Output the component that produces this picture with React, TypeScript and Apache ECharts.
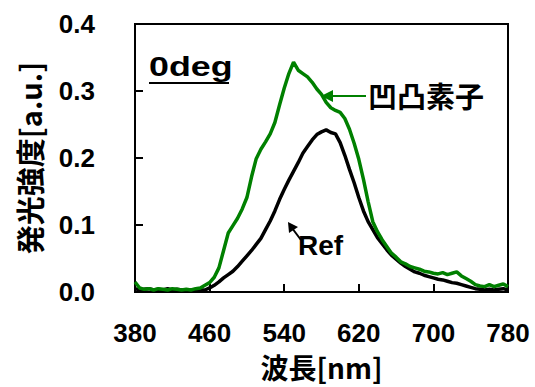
import React, { useEffect, useRef } from "react";
import * as echarts from "echarts";

// Tick labels
const xTicks = [380, 460, 540, 620, 700, 780];
const yTicks = [0, 0.1, 0.2, 0.3, 0.4];

// Series: [wavelength nm, intensity a.u.]
const refSeriesName = "Ref";
const refPoints: [number, number][] = [
  [380, 0.005], [385, 0.003], [390, 0.004], [395, 0.005], [400, 0.003], [405, 0.004], [410, 0.003], [415, 0.005], [420, 0.003], [425, 0.004],
  [430, 0.003], [435, 0.002], [440, 0.003], [445, 0.002], [450, 0.003], [455, 0.003], [460, 0.006], [465, 0.010], [470, 0.015], [475, 0.021],
  [480, 0.026], [485, 0.031], [490, 0.038], [495, 0.046], [500, 0.054], [505, 0.062], [510, 0.071], [515, 0.080], [520, 0.093], [525, 0.106],
  [530, 0.121], [535, 0.138], [540, 0.153], [545, 0.167], [550, 0.180], [555, 0.193], [560, 0.207], [565, 0.217], [570, 0.227], [575, 0.235],
  [580, 0.239], [585, 0.242], [590, 0.238], [595, 0.236], [600, 0.223], [605, 0.204], [610, 0.183], [615, 0.163], [620, 0.141], [625, 0.121],
  [630, 0.105], [635, 0.093], [640, 0.081], [645, 0.072], [650, 0.063], [655, 0.055], [660, 0.049], [665, 0.043], [670, 0.038], [675, 0.034],
  [680, 0.030], [685, 0.028], [690, 0.025], [695, 0.023], [700, 0.021], [705, 0.019], [710, 0.018], [715, 0.016], [720, 0.014], [725, 0.013],
  [730, 0.011], [735, 0.009], [740, 0.007], [745, 0.005], [750, 0.004], [755, 0.003], [760, 0.004], [765, 0.003], [770, 0.004], [775, 0.005],
  [780, 0.003],
];

const devSeriesName = "凹凸素子";
const devPoints: [number, number][] = [
  [380, 0.015], [385, 0.006], [390, 0.004], [395, 0.005], [400, 0.003], [405, 0.005], [410, 0.004], [415, 0.003], [420, 0.005], [425, 0.004],
  [430, 0.003], [435, 0.004], [440, 0.003], [445, 0.005], [450, 0.006], [455, 0.010], [460, 0.014], [465, 0.022], [470, 0.036], [475, 0.062],
  [480, 0.088], [485, 0.099], [490, 0.110], [495, 0.124], [500, 0.141], [505, 0.172], [510, 0.199], [515, 0.213], [520, 0.224], [525, 0.236],
  [530, 0.253], [535, 0.279], [540, 0.304], [545, 0.326], [550, 0.343], [555, 0.331], [560, 0.326], [565, 0.321], [570, 0.313], [575, 0.303],
  [580, 0.295], [585, 0.283], [590, 0.275], [595, 0.271], [600, 0.268], [605, 0.259], [610, 0.243], [615, 0.222], [620, 0.198], [625, 0.168],
  [630, 0.135], [635, 0.105], [640, 0.090], [645, 0.078], [650, 0.068], [655, 0.058], [660, 0.052], [665, 0.045], [670, 0.042], [675, 0.038],
  [680, 0.036], [685, 0.034], [690, 0.031], [695, 0.030], [700, 0.028], [705, 0.027], [710, 0.029], [715, 0.026], [720, 0.028], [725, 0.030],
  [730, 0.024], [735, 0.020], [740, 0.016], [745, 0.011], [750, 0.009], [755, 0.008], [760, 0.011], [765, 0.008], [770, 0.010], [775, 0.012],
  [780, 0.008],
];

const xTitle = "波長[nm]";
const yTitle = "発光強度[a.u.]";
const panelLabel = "0deg";

const GREEN = "#008000";
const LATIN = "'Liberation Sans', Arial, sans-serif";
const CJK = "'Noto Sans CJK JP', 'Noto Sans', sans-serif";

export default function App() {
  const ref = useRef<HTMLDivElement>(null);
  useEffect(() => {
    if (!ref.current) return;
    const chart = echarts.init(ref.current, undefined, { renderer: "svg" });
    const xMin = xTicks[0];
    const xMax = xTicks[xTicks.length - 1];
    const xInt = xTicks[1] - xTicks[0];
    chart.setOption({
      animation: false,
      backgroundColor: "#fff",
      grid: {
        left: 135,
        right: 27,
        top: 24,
        bottom: 91,
        show: true,
        borderColor: "#000",
        borderWidth: 2,
        containLabel: false,
      },
      xAxis: {
        type: "value",
        min: xMin,
        max: xMax,
        interval: xInt,
        name: xTitle,
        nameLocation: "middle",
        nameGap: 60,
        nameTextStyle: { fontFamily: CJK, fontWeight: "bold", fontSize: 28, lineHeight: 30, color: "#000" },
        axisLine: { show: true, lineStyle: { color: "#000", width: 2 } },
        axisTick: { show: true, inside: true, length: 8, lineStyle: { color: "#000", width: 2 } },
        axisLabel: { fontFamily: LATIN, fontWeight: "bold", fontSize: 26, color: "#000", margin: 28 },
        splitLine: { show: false },
      },
      yAxis: {
        type: "value",
        min: yTicks[0],
        max: yTicks[yTicks.length - 1],
        interval: yTicks[1] - yTicks[0],
        name: yTitle,
        nameLocation: "middle",
        nameGap: 92,
        nameRotate: 90,
        nameTextStyle: { fontFamily: CJK, fontWeight: "bold", fontSize: 29, color: "#000" },
        axisLine: { show: true, lineStyle: { color: "#000", width: 2 } },
        axisTick: { show: true, inside: true, length: 8, lineStyle: { color: "#000", width: 2 } },
        axisLabel: {
          fontFamily: LATIN,
          fontWeight: "bold",
          fontSize: 26,
          color: "#000",
          margin: 40,
          formatter: (v: number) => v.toFixed(1),
        },
        splitLine: { show: false },
      },
      series: [
        {
          name: refSeriesName,
          type: "line",
          data: refPoints,
          showSymbol: false,
          symbol: "none",
          lineStyle: { color: "#000", width: 3.5 },
          z: 2,
        },
        {
          name: devSeriesName,
          type: "line",
          data: devPoints,
          showSymbol: false,
          symbol: "none",
          lineStyle: { color: GREEN, width: 3.5 },
          z: 3,
        },
      ],
      graphic: [
        {
          type: "text",
          left: 149,
          top: 52,
          scaleX: 1.28,
          style: { text: panelLabel, fontFamily: LATIN, fontWeight: "bold", fontSize: 28, fill: "#000" },
          z: 10,
        },
        {
          type: "line",
          shape: { x1: 149, y1: 83, x2: 229, y2: 83 },
          style: { stroke: "#000", lineWidth: 2 },
          z: 10,
        },
        {
          type: "text",
          left: 368,
          top: 80,
          style: { text: devSeriesName, fontFamily: CJK, fontWeight: "bold", fontSize: 29, fill: "#000" },
          z: 10,
        },
        {
          type: "line",
          shape: { x1: 366, y1: 96, x2: 330, y2: 96 },
          style: { stroke: GREEN, lineWidth: 2 },
          z: 10,
        },
        {
          type: "polygon",
          shape: { points: [[321, 96], [333, 90], [333, 102]] },
          style: { fill: GREEN },
          z: 10,
        },
        {
          type: "text",
          left: 298,
          top: 231,
          style: { text: refSeriesName, fontFamily: LATIN, fontWeight: "bold", fontSize: 28, fill: "#000" },
          z: 10,
        },
        {
          type: "line",
          shape: { x1: 301, y1: 240, x2: 292, y2: 228 },
          style: { stroke: "#000", lineWidth: 2 },
          z: 10,
        },
        {
          type: "polygon",
          shape: { points: [[288, 222], [298, 227], [289, 233]] },
          style: { fill: "#000" },
          z: 10,
        },
      ],
    });
    return () => chart.dispose();
  }, []);
  return (
    <div
      ref={ref}
      style={{ position: "fixed", left: 0, top: 0, width: 535, height: 387, background: "#fff" }}
    />
  );
}
